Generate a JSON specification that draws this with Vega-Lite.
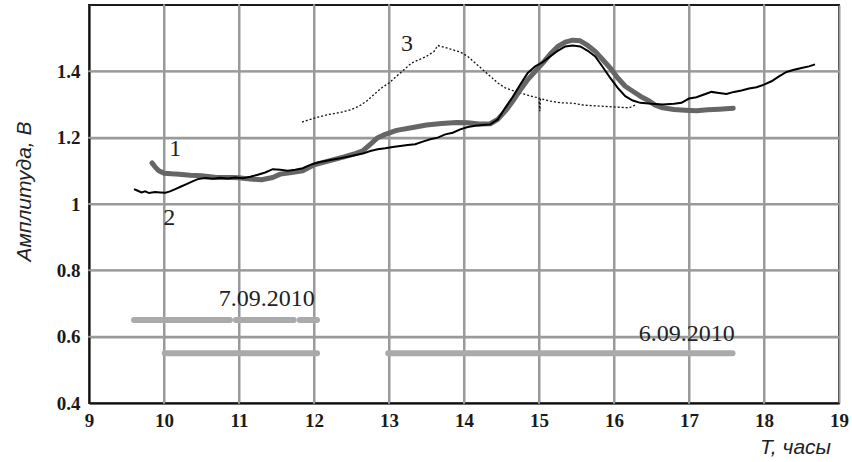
{
  "$schema": "https://vega.github.io/schema/vega-lite/v6.json",
  "autosize": "none",
  "width": 750,
  "height": 398,
  "padding": {"left": 89, "top": 5, "right": 13, "bottom": 59},
  "background": "white",
  "config": {
    "view": {"stroke": "#1a1a1a", "strokeWidth": 2}
  },
  "datasets": {
    "gridlines": [
      {"a": 10, "b": 10, "c": 0.4, "d": 1.6},
      {"a": 11, "b": 11, "c": 0.4, "d": 1.6},
      {"a": 12, "b": 12, "c": 0.4, "d": 1.6},
      {"a": 13, "b": 13, "c": 0.4, "d": 1.6},
      {"a": 14, "b": 14, "c": 0.4, "d": 1.6},
      {"a": 15, "b": 15, "c": 0.4, "d": 1.6},
      {"a": 16, "b": 16, "c": 0.4, "d": 1.6},
      {"a": 17, "b": 17, "c": 0.4, "d": 1.6},
      {"a": 18, "b": 18, "c": 0.4, "d": 1.6},
      {"a": 9, "b": 19, "c": 0.6, "d": 0.6},
      {"a": 9, "b": 19, "c": 0.8, "d": 0.8},
      {"a": 9, "b": 19, "c": 1.0, "d": 1.0},
      {"a": 9, "b": 19, "c": 1.2, "d": 1.2},
      {"a": 9, "b": 19, "c": 1.4, "d": 1.4}
    ],
    "curves": [
      {"s": "1", "t": 9.84, "v": 1.124}, {"s": "1", "t": 9.88, "v": 1.112}, {"s": "1", "t": 9.93, "v": 1.100}, {"s": "1", "t": 10.0, "v": 1.093},
      {"s": "1", "t": 10.1, "v": 1.091}, {"s": "1", "t": 10.2, "v": 1.090}, {"s": "1", "t": 10.35, "v": 1.087}, {"s": "1", "t": 10.5, "v": 1.085},
      {"s": "1", "t": 10.7, "v": 1.080}, {"s": "1", "t": 10.9, "v": 1.080}, {"s": "1", "t": 11.0, "v": 1.079}, {"s": "1", "t": 11.15, "v": 1.075},
      {"s": "1", "t": 11.3, "v": 1.073}, {"s": "1", "t": 11.45, "v": 1.080}, {"s": "1", "t": 11.55, "v": 1.090}, {"s": "1", "t": 11.7, "v": 1.095},
      {"s": "1", "t": 11.85, "v": 1.100}, {"s": "1", "t": 12.0, "v": 1.118}, {"s": "1", "t": 12.2, "v": 1.130}, {"s": "1", "t": 12.4, "v": 1.142},
      {"s": "1", "t": 12.55, "v": 1.152}, {"s": "1", "t": 12.65, "v": 1.160}, {"s": "1", "t": 12.75, "v": 1.180}, {"s": "1", "t": 12.85, "v": 1.200},
      {"s": "1", "t": 12.95, "v": 1.210}, {"s": "1", "t": 13.1, "v": 1.222}, {"s": "1", "t": 13.3, "v": 1.230}, {"s": "1", "t": 13.5, "v": 1.238},
      {"s": "1", "t": 13.7, "v": 1.243}, {"s": "1", "t": 13.9, "v": 1.246}, {"s": "1", "t": 14.05, "v": 1.245}, {"s": "1", "t": 14.2, "v": 1.241},
      {"s": "1", "t": 14.35, "v": 1.242}, {"s": "1", "t": 14.45, "v": 1.255}, {"s": "1", "t": 14.55, "v": 1.280}, {"s": "1", "t": 14.65, "v": 1.310},
      {"s": "1", "t": 14.75, "v": 1.344}, {"s": "1", "t": 14.85, "v": 1.375}, {"s": "1", "t": 14.95, "v": 1.400}, {"s": "1", "t": 15.05, "v": 1.425},
      {"s": "1", "t": 15.15, "v": 1.452}, {"s": "1", "t": 15.25, "v": 1.475}, {"s": "1", "t": 15.35, "v": 1.488}, {"s": "1", "t": 15.45, "v": 1.494},
      {"s": "1", "t": 15.55, "v": 1.492}, {"s": "1", "t": 15.65, "v": 1.478}, {"s": "1", "t": 15.75, "v": 1.460}, {"s": "1", "t": 15.85, "v": 1.435},
      {"s": "1", "t": 15.95, "v": 1.410}, {"s": "1", "t": 16.05, "v": 1.380}, {"s": "1", "t": 16.15, "v": 1.355}, {"s": "1", "t": 16.25, "v": 1.340},
      {"s": "1", "t": 16.35, "v": 1.325}, {"s": "1", "t": 16.45, "v": 1.313}, {"s": "1", "t": 16.55, "v": 1.298}, {"s": "1", "t": 16.65, "v": 1.290},
      {"s": "1", "t": 16.8, "v": 1.285}, {"s": "1", "t": 16.95, "v": 1.283}, {"s": "1", "t": 17.1, "v": 1.281}, {"s": "1", "t": 17.25, "v": 1.284},
      {"s": "1", "t": 17.4, "v": 1.286}, {"s": "1", "t": 17.59, "v": 1.289},

      {"s": "2", "t": 9.60, "v": 1.045}, {"s": "2", "t": 9.65, "v": 1.040}, {"s": "2", "t": 9.70, "v": 1.035}, {"s": "2", "t": 9.75, "v": 1.038},
      {"s": "2", "t": 9.80, "v": 1.033}, {"s": "2", "t": 9.88, "v": 1.036}, {"s": "2", "t": 9.95, "v": 1.035}, {"s": "2", "t": 10.02, "v": 1.034},
      {"s": "2", "t": 10.08, "v": 1.038}, {"s": "2", "t": 10.15, "v": 1.045}, {"s": "2", "t": 10.22, "v": 1.052}, {"s": "2", "t": 10.30, "v": 1.060},
      {"s": "2", "t": 10.38, "v": 1.068}, {"s": "2", "t": 10.45, "v": 1.075}, {"s": "2", "t": 10.55, "v": 1.078}, {"s": "2", "t": 10.65, "v": 1.076},
      {"s": "2", "t": 10.75, "v": 1.079}, {"s": "2", "t": 10.85, "v": 1.077}, {"s": "2", "t": 10.95, "v": 1.080}, {"s": "2", "t": 11.05, "v": 1.078},
      {"s": "2", "t": 11.15, "v": 1.082}, {"s": "2", "t": 11.25, "v": 1.088}, {"s": "2", "t": 11.35, "v": 1.095}, {"s": "2", "t": 11.45, "v": 1.105},
      {"s": "2", "t": 11.55, "v": 1.103}, {"s": "2", "t": 11.65, "v": 1.100}, {"s": "2", "t": 11.75, "v": 1.103}, {"s": "2", "t": 11.85, "v": 1.108},
      {"s": "2", "t": 11.95, "v": 1.118}, {"s": "2", "t": 12.05, "v": 1.125}, {"s": "2", "t": 12.2, "v": 1.132}, {"s": "2", "t": 12.35, "v": 1.138},
      {"s": "2", "t": 12.5, "v": 1.145}, {"s": "2", "t": 12.65, "v": 1.152}, {"s": "2", "t": 12.75, "v": 1.160}, {"s": "2", "t": 12.85, "v": 1.165},
      {"s": "2", "t": 12.95, "v": 1.168}, {"s": "2", "t": 13.05, "v": 1.172}, {"s": "2", "t": 13.15, "v": 1.175}, {"s": "2", "t": 13.25, "v": 1.178},
      {"s": "2", "t": 13.35, "v": 1.180}, {"s": "2", "t": 13.45, "v": 1.188}, {"s": "2", "t": 13.55, "v": 1.195}, {"s": "2", "t": 13.65, "v": 1.200},
      {"s": "2", "t": 13.75, "v": 1.210}, {"s": "2", "t": 13.85, "v": 1.215}, {"s": "2", "t": 13.95, "v": 1.225}, {"s": "2", "t": 14.05, "v": 1.232},
      {"s": "2", "t": 14.15, "v": 1.236}, {"s": "2", "t": 14.25, "v": 1.238}, {"s": "2", "t": 14.35, "v": 1.240}, {"s": "2", "t": 14.45, "v": 1.255},
      {"s": "2", "t": 14.55, "v": 1.290}, {"s": "2", "t": 14.65, "v": 1.323}, {"s": "2", "t": 14.75, "v": 1.360}, {"s": "2", "t": 14.85, "v": 1.395},
      {"s": "2", "t": 14.95, "v": 1.415}, {"s": "2", "t": 15.05, "v": 1.428}, {"s": "2", "t": 15.15, "v": 1.445}, {"s": "2", "t": 15.25, "v": 1.462},
      {"s": "2", "t": 15.35, "v": 1.475}, {"s": "2", "t": 15.45, "v": 1.478}, {"s": "2", "t": 15.55, "v": 1.475}, {"s": "2", "t": 15.65, "v": 1.462},
      {"s": "2", "t": 15.75, "v": 1.445}, {"s": "2", "t": 15.85, "v": 1.413}, {"s": "2", "t": 15.95, "v": 1.380}, {"s": "2", "t": 16.05, "v": 1.350},
      {"s": "2", "t": 16.15, "v": 1.325}, {"s": "2", "t": 16.25, "v": 1.312}, {"s": "2", "t": 16.35, "v": 1.305}, {"s": "2", "t": 16.5, "v": 1.302},
      {"s": "2", "t": 16.65, "v": 1.300}, {"s": "2", "t": 16.8, "v": 1.302}, {"s": "2", "t": 16.9, "v": 1.305}, {"s": "2", "t": 17.0, "v": 1.318},
      {"s": "2", "t": 17.1, "v": 1.322}, {"s": "2", "t": 17.2, "v": 1.330}, {"s": "2", "t": 17.3, "v": 1.338}, {"s": "2", "t": 17.4, "v": 1.335},
      {"s": "2", "t": 17.5, "v": 1.332}, {"s": "2", "t": 17.6, "v": 1.338}, {"s": "2", "t": 17.7, "v": 1.342}, {"s": "2", "t": 17.8, "v": 1.348},
      {"s": "2", "t": 17.9, "v": 1.352}, {"s": "2", "t": 18.0, "v": 1.360}, {"s": "2", "t": 18.1, "v": 1.370}, {"s": "2", "t": 18.2, "v": 1.385},
      {"s": "2", "t": 18.3, "v": 1.398}, {"s": "2", "t": 18.4, "v": 1.405}, {"s": "2", "t": 18.5, "v": 1.410}, {"s": "2", "t": 18.6, "v": 1.415},
      {"s": "2", "t": 18.68, "v": 1.421},

      {"s": "3", "t": 11.84, "v": 1.247}, {"s": "3", "t": 11.95, "v": 1.255}, {"s": "3", "t": 12.05, "v": 1.262}, {"s": "3", "t": 12.2, "v": 1.270},
      {"s": "3", "t": 12.35, "v": 1.276}, {"s": "3", "t": 12.5, "v": 1.285}, {"s": "3", "t": 12.6, "v": 1.295}, {"s": "3", "t": 12.7, "v": 1.310},
      {"s": "3", "t": 12.8, "v": 1.330}, {"s": "3", "t": 12.9, "v": 1.350}, {"s": "3", "t": 13.0, "v": 1.365}, {"s": "3", "t": 13.1, "v": 1.385},
      {"s": "3", "t": 13.2, "v": 1.405}, {"s": "3", "t": 13.3, "v": 1.425}, {"s": "3", "t": 13.4, "v": 1.435}, {"s": "3", "t": 13.5, "v": 1.445},
      {"s": "3", "t": 13.6, "v": 1.460}, {"s": "3", "t": 13.65, "v": 1.478}, {"s": "3", "t": 13.75, "v": 1.472}, {"s": "3", "t": 13.85, "v": 1.465},
      {"s": "3", "t": 13.95, "v": 1.458}, {"s": "3", "t": 14.05, "v": 1.445}, {"s": "3", "t": 14.15, "v": 1.425}, {"s": "3", "t": 14.25, "v": 1.405},
      {"s": "3", "t": 14.35, "v": 1.385}, {"s": "3", "t": 14.45, "v": 1.365}, {"s": "3", "t": 14.55, "v": 1.350}, {"s": "3", "t": 14.7, "v": 1.338},
      {"s": "3", "t": 14.85, "v": 1.328}, {"s": "3", "t": 14.95, "v": 1.322}, {"s": "3", "t": 15.0, "v": 1.320}, {"s": "3", "t": 15.01, "v": 1.280},
      {"s": "3", "t": 15.02, "v": 1.318}, {"s": "3", "t": 15.15, "v": 1.310}, {"s": "3", "t": 15.3, "v": 1.305}, {"s": "3", "t": 15.45, "v": 1.304},
      {"s": "3", "t": 15.6, "v": 1.298}, {"s": "3", "t": 15.75, "v": 1.296}, {"s": "3", "t": 15.9, "v": 1.294}, {"s": "3", "t": 16.05, "v": 1.292},
      {"s": "3", "t": 16.2, "v": 1.290}, {"s": "3", "t": 16.3, "v": 1.300}
    ],
    "bars": [
      {"t1": 9.6, "t2": 10.88, "v": 0.65},
      {"t1": 10.96, "t2": 11.73, "v": 0.65},
      {"t1": 11.81, "t2": 12.04, "v": 0.65},
      {"t1": 10.01, "t2": 12.04, "v": 0.55},
      {"t1": 12.99, "t2": 17.58, "v": 0.55}
    ],
    "labels": [
      {"text": "1", "t": 10.15, "v": 1.165},
      {"text": "2", "t": 10.07, "v": 0.958},
      {"text": "3", "t": 13.24, "v": 1.482},
      {"text": "7.09.2010", "t": 11.37, "v": 0.714},
      {"text": "6.09.2010", "t": 16.97, "v": 0.608}
    ]
  },
  "layer": [
    {
      "data": {"name": "gridlines"},
      "mark": {"type": "rule", "color": "#9a9a9a", "strokeWidth": 2, "strokeCap": "round"},
      "encoding": {
        "x": {"field": "a", "type": "quantitative", "scale": {"domain": [9, 19], "nice": false, "zero": false},
          "axis": {"values": [9, 10, 11, 12, 13, 14, 15, 16, 17, 18, 19], "format": "d",
            "grid": true, "gridColor": "#9a9a9a", "gridWidth": 2, "ticks": false,
            "domain": true, "domainColor": "#111", "domainWidth": 2,
            "labelFont": "Liberation Serif", "labelFontWeight": "bold", "labelFontSize": 19, "labelColor": "#1a1a1a",
            "labelOverlap": false, "labelBound": false, "labelFlush": false,
            "labelPadding": 8, "labelDx": 3,
            "title": "T, часы", "titleFont": "Liberation Sans", "titleFontStyle": "italic", "titleFontWeight": "normal",
            "titleFontSize": 21, "titleColor": "#222",
            "titleX": 706, "titleY": 44, "titleAlign": "center", "titleBaseline": "middle"}},
        "x2": {"field": "b"},
        "y": {"field": "c", "type": "quantitative", "scale": {"domain": [0.4, 1.6], "nice": false, "zero": false},
          "axis": {"values": [0.4, 0.6, 0.8, 1, 1.2, 1.4], "labelExpr": "format(datum.value, '~g')",
            "grid": true, "gridColor": "#9a9a9a", "gridWidth": 2, "ticks": false,
            "domain": true, "domainColor": "#111", "domainWidth": 2,
            "labelFont": "Liberation Serif", "labelFontWeight": "bold", "labelFontSize": 19, "labelColor": "#1a1a1a",
            "labelOverlap": false, "labelBound": false, "labelFlush": false,
            "labelPadding": 9, "labelDy": 3,
            "title": "Амплитуда, В", "titleFont": "Liberation Sans", "titleFontStyle": "italic", "titleFontWeight": "normal",
            "titleFontSize": 21, "titleColor": "#222",
            "titleX": -65, "titleY": 186, "titleAngle": -90, "titleAlign": "center", "titleBaseline": "middle"}},
        "y2": {"field": "d"}
      }
    },
    {
      "data": {"name": "curves"},
      "transform": [{"filter": "datum.s == '3'"}],
      "mark": {"type": "line", "color": "#111", "strokeWidth": 1.3, "strokeDash": [2, 2]},
      "encoding": {
        "x": {"field": "t", "type": "quantitative"},
        "y": {"field": "v", "type": "quantitative"}
      }
    },
    {
      "data": {"name": "bars"},
      "mark": {"type": "rule", "color": "#aaaaaa", "strokeWidth": 6, "strokeCap": "round"},
      "encoding": {
        "x": {"field": "t1", "type": "quantitative"},
        "x2": {"field": "t2"},
        "y": {"field": "v", "type": "quantitative"}
      }
    },
    {
      "data": {"name": "curves"},
      "transform": [{"filter": "datum.s == '1'"}],
      "mark": {"type": "line", "color": "#666666", "strokeWidth": 5, "strokeCap": "round", "strokeJoin": "round"},
      "encoding": {
        "x": {"field": "t", "type": "quantitative"},
        "y": {"field": "v", "type": "quantitative"}
      }
    },
    {
      "data": {"name": "curves"},
      "transform": [{"filter": "datum.s == '2'"}],
      "mark": {"type": "line", "color": "#000000", "strokeWidth": 2},
      "encoding": {
        "x": {"field": "t", "type": "quantitative"},
        "y": {"field": "v", "type": "quantitative"}
      }
    },
    {
      "data": {"name": "labels"},
      "mark": {"type": "text", "font": "Liberation Serif", "fontSize": 24, "color": "#222", "align": "center", "baseline": "middle"},
      "encoding": {
        "x": {"field": "t", "type": "quantitative"},
        "y": {"field": "v", "type": "quantitative"},
        "text": {"field": "text"}
      }
    }
  ]
}
